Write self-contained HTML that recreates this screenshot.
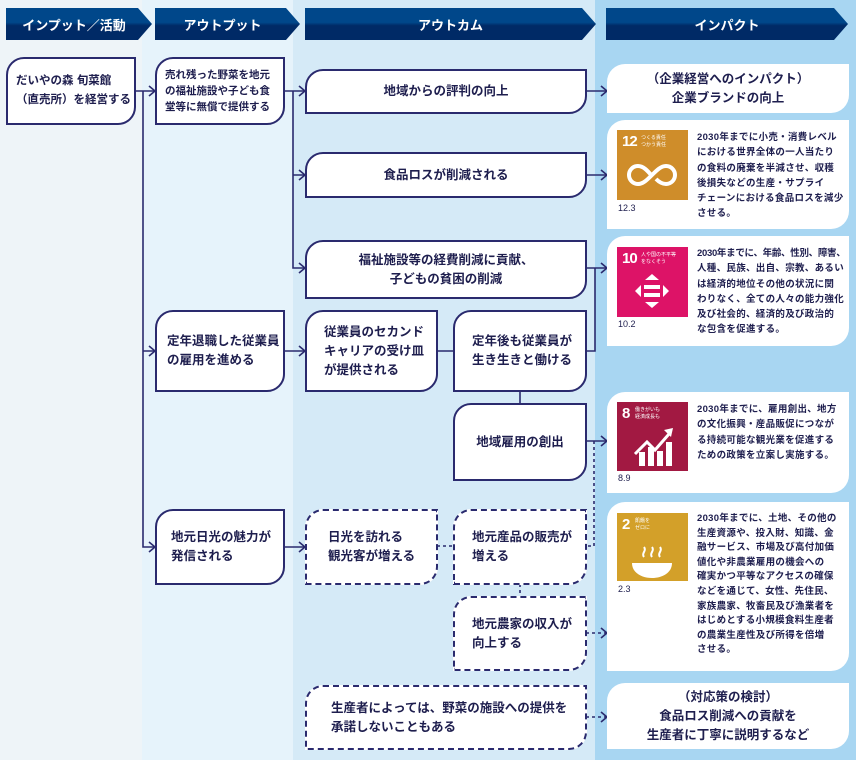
<!DOCTYPE html>
<html><head><meta charset="utf-8">
<style>
*{margin:0;padding:0;box-sizing:border-box}
body{width:856px;height:760px;position:relative;overflow:hidden;font-family:"Liberation Sans","Noto Sans CJK JP",sans-serif;color:#1e1e4e;background:#eef4f8}
.col{position:absolute;top:0;height:760px}
.b{position:absolute;background:#fff;border:2px solid #2a2a6e;border-radius:18px 0 18px 0;display:flex;align-items:center;font-size:12.5px;font-weight:bold;line-height:19px;padding-left:14px;white-space:nowrap}
.c{justify-content:center;text-align:center;padding-left:0}
.d{border-style:dashed}
.w{position:absolute;background:#fff;border-radius:18px 0 18px 0}
.hd{position:absolute;top:8px;height:32px;color:#fff;font-weight:bold;font-size:13px;display:flex;align-items:center;justify-content:center;background:linear-gradient(#00478a 0,#00478a 45%,#002a66 55%,#002a66 100%);clip-path:polygon(0 0,calc(100% - 14px) 0,100% 50%,calc(100% - 14px) 100%,0 100%)}
.ic{position:absolute;left:617px;width:71px;height:70px;color:#fff}
.ic .n{position:absolute;left:5px;top:3px;font-size:15px;font-weight:bold;letter-spacing:-1px}
.ic .t{position:absolute;left:24px;top:5px;font-size:5px;line-height:7px}
.lb{position:absolute;left:618px;font-size:9px}
.tx{position:absolute;left:697px;font-size:9.5px;line-height:15.3px;font-weight:bold;letter-spacing:0.3px;white-space:nowrap}
</style></head><body>
<div class="col" style="left:0;width:142px;background:#eef4f8"></div>
<div class="col" style="left:142px;width:151px;background:#e6f3fb"></div>
<div class="col" style="left:293px;width:302px;background:#d5eaf7"></div>
<div class="col" style="left:595px;width:261px;background:#a8d6f2"></div>

<div class="hd" style="left:6px;width:146px;padding-right:10px">インプット／活動</div>
<div class="hd" style="left:155px;width:145px;padding-right:10px">アウトプット</div>
<div class="hd" style="left:305px;width:291px">アウトカム</div>
<div class="hd" style="left:606px;width:242px">インパクト</div>

<svg width="856" height="760" style="position:absolute;left:0;top:0" fill="none" stroke="#2a2a6e" stroke-width="1.6">
<path d="M136 91H154M143 91V547H154M143 351H154M284 91H304M293 91V268H304M293 175H304M586 91H606M586 175H606M586 268H606M595 268V351H586M284 351H304M437 351H453M520 392V403M586 441H606M284 547H304"/>
<path d="M594 441V546H586M437 546H453M520 584V596M586 633H606M586 717H606" stroke-dasharray="3 3"/>
<path d="M149 86L155 91L149 96M149 346L155 351L149 356M149 542L155 547L149 552M299 86L305 91L299 96M299 170L305 175L299 180M299 263L305 268L299 273M299 346L305 351L299 356M299 542L305 547L299 552M601 86L607 91L601 96M601 170L607 175L601 180M601 263L607 268L601 273M601 436L607 441L601 446M601 628L607 633L601 638M601 712L607 717L601 722"/>
</svg>

<div class="b" style="left:6px;top:57px;width:130px;height:68px;padding-left:8px;font-size:11.5px">だいやの森 旬菜館<br>（直売所）を経営する</div>
<div class="b" style="left:155px;top:57px;width:130px;height:68px;padding-left:8px;font-size:10.5px;line-height:16px">売れ残った野菜を地元<br>の福祉施設や子ども食<br>堂等に無償で提供する</div>
<div class="b c" style="left:305px;top:69px;width:282px;height:45px">地域からの評判の向上</div>
<div class="b c" style="left:305px;top:152px;width:282px;height:46px">食品ロスが削減される</div>
<div class="b c" style="left:305px;top:240px;width:282px;height:59px">福祉施設等の経費削減に貢献、<br>子どもの貧困の削減</div>
<div class="b" style="left:155px;top:310px;width:130px;height:82px;padding-left:10px">定年退職した従業員<br>の雇用を進める</div>
<div class="b" style="left:305px;top:310px;width:133px;height:82px;padding-left:17px">従業員のセカンド<br>キャリアの受け皿<br>が提供される</div>
<div class="b" style="left:453px;top:310px;width:134px;height:82px;padding-left:17px">定年後も従業員が<br>生き生きと働ける</div>
<div class="b c" style="left:453px;top:403px;width:134px;height:78px">地域雇用の創出</div>
<div class="b" style="left:155px;top:509px;width:130px;height:76px;padding-left:14px">地元日光の魅力が<br>発信される</div>
<div class="b d" style="left:305px;top:509px;width:133px;height:76px;padding-left:21px">日光を訪れる<br>観光客が増える</div>
<div class="b d" style="left:453px;top:509px;width:134px;height:76px;padding-left:17px">地元産品の販売が<br>増える</div>
<div class="b d" style="left:453px;top:596px;width:134px;height:75px;padding-left:17px">地元農家の収入が<br>向上する</div>
<div class="b d" style="left:305px;top:685px;width:282px;height:65px;padding-left:24px">生産者によっては、野菜の施設への提供を<br>承諾しないこともある</div>

<div class="w b c" style="border:none;left:607px;top:64px;width:242px;height:49px">（企業経営へのインパクト）<br>企業ブランドの向上</div>
<div class="w" style="left:607px;top:120px;width:242px;height:109px"></div>
<div class="w" style="left:607px;top:236px;width:242px;height:110px"></div>
<div class="w" style="left:607px;top:392px;width:242px;height:101px"></div>
<div class="w" style="left:607px;top:502px;width:242px;height:169px"></div>
<div class="w b c" style="border:none;left:607px;top:683px;width:242px;height:66px">（対応策の検討）<br>食品ロス削減への貢献を<br>生産者に丁寧に説明するなど</div>

<div class="ic" style="top:130px;background:#cf8d2a"><span class="n">12</span><span class="t">つくる責任<br>つかう責任</span>
<svg width="71" height="70" style="position:absolute;left:0;top:0"><path d="M35 46c-5-6-9-10-14-10-5 0-9 4-9 9s4 9 9 9c5 0 9-4 14-9s9-9 14-9 9 4 9 9-4 9-9 9c-4 0-7-2-10-5" fill="none" stroke="#fff" stroke-width="4"/></svg></div>
<div class="lb" style="top:203px">12.3</div>
<div class="tx" style="top:130px">2030年までに小売・消費レベル<br>における世界全体の一人当たり<br>の食料の廃棄を半減させ、収穫<br>後損失などの生産・サプライ<br>チェーンにおける食品ロスを減少<br>させる。</div>

<div class="ic" style="top:247px;background:#dd1367"><span class="n">10</span><span class="t">人や国の不平等<br>をなくそう</span>
<svg width="71" height="70" style="position:absolute;left:0;top:0" fill="#fff"><path d="M35 27l7 6H28zM35 61l7-6H28zM18 44l6-6v12zM52 44l-6-6v12z"/><rect x="27" y="38" width="16" height="4"/><rect x="27" y="46" width="16" height="4"/></svg></div>
<div class="lb" style="top:319px">10.2</div>
<div class="tx" style="top:246px"><span style="letter-spacing:-0.3px">2030年までに、年齢、性別、障害、</span><br>人種、民族、出自、宗教、あるい<br>は経済的地位その他の状況に関<br>わりなく、全ての人々の能力強化<br>及び社会的、経済的及び政治的<br>な包含を促進する。</div>

<div class="ic" style="top:402px;height:69px;background:#a21942"><span class="n">8</span><span class="t" style="left:18px">働きがいも<br>経済成長も</span>
<svg width="71" height="70" style="position:absolute;left:0;top:0" fill="#fff"><rect x="22" y="50" width="6" height="14"/><rect x="31" y="45" width="6" height="19"/><rect x="40" y="49" width="6" height="15"/><rect x="49" y="40" width="6" height="24"/><path d="M18 52l12-12 8 8 14-16" stroke="#fff" stroke-width="3" fill="none"/><path d="M47 28l9-2-2 9z"/></svg></div>
<div class="lb" style="top:473px">8.9</div>
<div class="tx" style="top:402px">2030年までに、雇用創出、地方<br>の文化振興・産品販促につなが<br>る持続可能な観光業を促進する<br>ための政策を立案し実施する。</div>

<div class="ic" style="top:513px;height:68px;background:#d3a029"><span class="n">2</span><span class="t" style="left:18px">飢餓を<br>ゼロに</span>
<svg width="71" height="70" style="position:absolute;left:0;top:0" fill="#fff"><path d="M15 50h40c0 10-10 15-20 15s-20-5-20-15z"/><path d="M27 44c-3-4 3-6 0-10M35 44c-3-4 3-6 0-10M43 44c-3-4 3-6 0-10" stroke="#fff" stroke-width="2" fill="none"/></svg></div>
<div class="lb" style="top:584px">2.3</div>
<div class="tx" style="top:512px;line-height:14.6px">2030年までに、土地、その他の<br>生産資源や、投入財、知識、金<br>融サービス、市場及び高付加価<br>値化や非農業雇用の機会への<br>確実かつ平等なアクセスの確保<br>などを通じて、女性、先住民、<br>家族農家、牧畜民及び漁業者を<br>はじめとする小規模食料生産者<br>の農業生産性及び所得を倍増<br>させる。</div>
</body></html>
